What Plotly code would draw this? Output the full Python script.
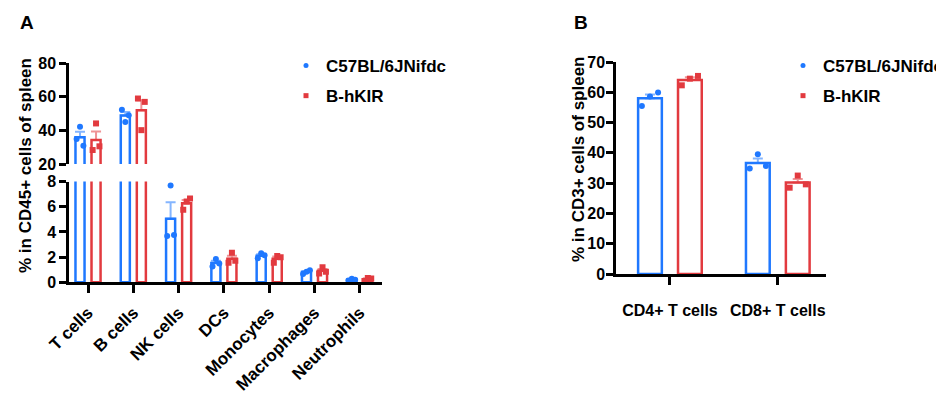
import numpy as np
import plotly.graph_objects as go

# ---------------- data ----------------
cells_a = ["T cells", "B cells", "NK cells", "DCs", "Monocytes", "Macrophages", "Neutrophils"]
wt_a = [[34.8, 42.1, 30.8], [52.3, 45.0, 49.0], [3.68, 7.68, 3.76], [1.25, 1.85, 1.5],
        [1.9, 2.3, 2.15], [0.66, 0.84, 0.95], [0.15, 0.28, 0.2]]
ki_a = [[28.3, 44.1, 30.5], [58.9, 40.1, 56.9], [5.75, 6.41, 6.65], [1.55, 2.35, 1.72],
        [1.56, 2.09, 1.98], [0.7, 1.19, 0.84], [0.1, 0.35, 0.3]]

cells_b = ["CD4+ T cells", "CD8+ T cells"]
wt_b = [[55.5, 58.6, 59.9], [34.8, 39.5, 35.7]]
ki_b = [[62.3, 64.5, 65.4], [28.5, 32.5, 29.6]]

names = ["C57BL/6JNifdc", "B-hKIR"]
yticks_low = [0, 2, 4, 6, 8]
yticks_up = [20, 40, 60, 80]
yticks_b = [0, 10, 20, 30, 40, 50, 60, 70]

BLUE = "#1f78ff"
RED = "#e23a3f"
BLUE_E = "rgba(31,120,255,0.55)"
RED_E = "rgba(226,58,63,0.55)"
FONT = "Liberation Sans, Arial, sans-serif"
JIT = [-1, 0, 1]

def mean_sem(rows):
    a = np.array(rows, dtype=float)
    m = a.mean(axis=1)
    s = a.std(axis=1, ddof=1) / np.sqrt(a.shape[1])
    return m, s

fig = go.Figure()

def add_group(rows, idx, shift, width, jit, color, ecolor, symbol, xa, ya):
    m, s = mean_sem(rows)
    fig.add_trace(go.Bar(
        x=idx, y=m, width=width, offset=shift - width / 2,
        marker=dict(color="white", line=dict(color=color, width=2.5)),
        error_y=dict(type="data", array=s, arrayminus=np.zeros_like(s), symmetric=False,
                     color=ecolor, thickness=2, width=5),
        xaxis=xa, yaxis=ya, showlegend=False, hoverinfo="skip"))
    px, py = [], []
    for i, r in zip(idx, rows):
        for j, v in enumerate(r):
            px.append(i + shift + JIT[j] * jit)
            py.append(v)
    fig.add_trace(go.Scatter(
        x=px, y=py, mode="markers",
        marker=dict(color=color, size=6, symbol=symbol, line=dict(width=0)),
        xaxis=xa, yaxis=ya, showlegend=False))

def add_legend_entry(name, color, symbol, legend, xa, ya):
    fig.add_trace(go.Scatter(
        x=[None], y=[None], mode="markers", name=name,
        marker=dict(color=color, size=5, symbol=symbol, line=dict(width=0)),
        xaxis=xa, yaxis=ya, showlegend=True, legend=legend, legendgroup=name + legend))

idx_a = list(range(len(cells_a)))
idx_b = list(range(len(cells_b)))

# Panel A: lower (y) and upper (y2) segments of the broken axis
for ya in ("y", "y2"):
    add_group(wt_a, idx_a, -0.177, 0.2, 0.075, BLUE, BLUE_E, "circle", "x", ya)
    add_group(ki_a, idx_a, 0.177, 0.2, 0.075, RED, RED_E, "square", "x", ya)
add_legend_entry(names[0], BLUE, "circle", "legend", "x", "y")
add_legend_entry(names[1], RED, "square", "legend", "x", "y")

# Panel B
add_group(wt_b, idx_b, -0.185, 0.22, 0.075, BLUE, BLUE_E, "circle", "x3", "y3")
add_group(ki_b, idx_b, 0.185, 0.22, 0.075, RED, RED_E, "square", "x3", "y3")
add_legend_entry(names[0], BLUE, "circle", "legend2", "x3", "y3")
add_legend_entry(names[1], RED, "square", "legend2", "x3", "y3")

W, H = 944, 399
OFF = 8  # page offset of the figure in the browser
def px_x(v): return (v - OFF) / W
def px_y(v): return 1 - (v - OFF) / H

tickfont = dict(family=FONT, size=16, color="black", weight="bold")
def ax(**kw):
    base = dict(showline=True, linecolor="black", linewidth=2.5, ticks="outside",
                ticklen=7, tickwidth=2.5, tickcolor="black", showgrid=False, zeroline=False,
                automargin=False, tickfont=tickfont)
    base.update(kw)
    return base

legfont = dict(family=FONT, size=17, color="black", weight="bold")
fig.update_layout(
    template="none",
    width=W, height=H, margin=dict(l=0, r=0, t=0, b=0),
    plot_bgcolor="white", paper_bgcolor="white", barmode="overlay",
    font=dict(family=FONT, color="black", weight="bold"),
    xaxis=ax(domain=[px_x(69), px_x(382)], range=[-0.42, 6.49], anchor="y",
             tickvals=idx_a, ticktext=cells_a, tickangle=-45, ticklen=8, ticklabelstandoff=3,
             tickfont=dict(family=FONT, size=17, color="black", weight="bold")),
    yaxis=ax(domain=[px_y(282.3), px_y(181.5)], range=[0, 8], tickvals=yticks_low, anchor="x"),
    yaxis2=ax(domain=[px_y(164), px_y(63)], range=[20, 80], tickvals=yticks_up, anchor="x"),
    xaxis3=ax(domain=[px_x(616), px_x(826)], range=[-0.5, 1.447], anchor="y3",
              tickvals=idx_b, ticktext=cells_b, ticklen=8, ticklabelstandoff=12),
    yaxis3=ax(domain=[px_y(274), px_y(62)], range=[0, 70], tickvals=yticks_b, anchor="x3",
              ticklabelstandoff=-2),
    legend=dict(x=px_x(286), y=px_y(48), xanchor="left", yanchor="top", font=legfont,
                bgcolor="rgba(0,0,0,0)", tracegroupgap=5, borderwidth=0),
    legend2=dict(x=px_x(783), y=px_y(48), xanchor="left", yanchor="top", font=legfont,
                 bgcolor="rgba(0,0,0,0)", tracegroupgap=5, borderwidth=0),
)

ann_font = dict(family=FONT, size=17, color="black", weight="bold")
fig.add_annotation(text="% in CD45+ cells of spleen", x=px_x(25), y=px_y(166), xref="paper", yref="paper",
                   textangle=-90, showarrow=False, font=ann_font, xanchor="center", yanchor="middle")
fig.add_annotation(text="% in CD3+ cells of spleen", x=px_x(578), y=px_y(159), xref="paper", yref="paper",
                   textangle=-90, showarrow=False, font=ann_font, xanchor="center", yanchor="middle")
fig.add_annotation(text="A", x=px_x(18), y=px_y(22), xref="paper", yref="paper", showarrow=False,
                   font=dict(family=FONT, size=19, color="black", weight="bold"), xanchor="left", yanchor="middle")
fig.add_annotation(text="B", x=px_x(572), y=px_y(22), xref="paper", yref="paper", showarrow=False,
                   font=dict(family=FONT, size=19, color="black", weight="bold"), xanchor="left", yanchor="middle")

fig.write_html("out.html")
